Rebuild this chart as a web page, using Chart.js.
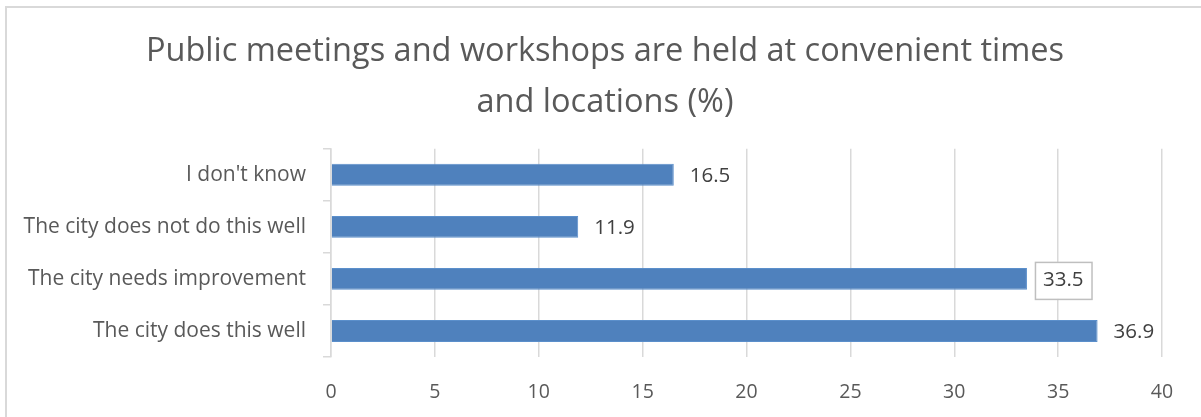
<!DOCTYPE html>
<html>
<head>
<meta charset="utf-8">
<script src="https://cdn.jsdelivr.net/npm/chart.js@4/dist/chart.umd.min.js"></script>
<style>
  html, body { margin: 0; padding: 0; background: #fff; }
  #wrap { position: relative; width: 1201px; height: 417px; overflow: hidden; }
  #frame { position: absolute; left: 5px; top: 6px; width: 1300px; height: 500px;
           border-left: 2px solid #D9D9D9; border-top: 2px solid #D9D9D9; box-sizing: border-box; }
  canvas { position: absolute; left: 0; top: 0; }
</style>
</head>
<body>
<div id="wrap">
  <div id="frame"></div>
  <canvas id="c" width="1201" height="417"></canvas>
</div>
<script>
const titleLines = ["Public meetings and workshops are held at convenient times", "and locations (%)"];
const categories = ["I don't know", "The city does not do this well", "The city needs improvement", "The city does this well"];
const values = [16.5, 11.9, 33.5, 36.9];
const xTicks = [0, 5, 10, 15, 20, 25, 30, 35, 40];
const boxedLabels = ["The city needs improvement"];

const FONT = "'Open Sans', Lato, sans-serif";
const TEXT = '#595959';

const dataLabels = {
  id: 'dataLabels',
  afterDatasetsDraw(chart) {
    const ctx = chart.ctx;
    const meta = chart.getDatasetMeta(0);
    ctx.save();
    ctx.font = '20.5px ' + FONT;
    ctx.textBaseline = 'middle';
    ctx.textAlign = 'left';
    meta.data.forEach((bar, i) => {
      const txt = values[i].toFixed(1);
      const x = bar.x + 16;
      const y = bar.y;
      if (boxedLabels.includes(categories[i])) {
        const w = ctx.measureText(txt).width;
        ctx.fillStyle = '#fff';
        ctx.fillRect(x - 8, y - 17, w + 16, 37);
        ctx.strokeStyle = '#BFBFBF';
        ctx.lineWidth = 1.5;
        ctx.strokeRect(x - 8 + 0.5, y - 17 + 0.5, w + 16, 37);
      }
      ctx.fillStyle = '#404040';
      ctx.fillText(txt, x, y + 1);
    });
    ctx.restore();
  }
};

new Chart(document.getElementById('c'), {
  type: 'bar',
  data: {
    labels: categories,
    datasets: [{
      data: values,
      backgroundColor: '#4F81BD',
      borderColor: '#5B8FCB',
      borderWidth: 1,
      barPercentage: 0.42,
      categoryPercentage: 1.0
    }]
  },
  options: {
    indexAxis: 'y',
    responsive: false,
    animation: false,
    layout: { padding: { left: 9, right: 0, top: 0, bottom: 0 } },
    plugins: {
      legend: { display: false },
      tooltip: { enabled: false },
      title: {
        display: true,
        text: titleLines,
        color: TEXT,
        font: { family: FONT, size: 32.5, weight: 'normal', lineHeight: 1.55 },
        padding: { top: 27, bottom: 21 }
      }
    },
    scales: {
      x: {
        min: 0, max: 40,
        afterBuildTicks(scale) { scale.ticks = xTicks.map(v => ({ value: v })); },
        afterFit(scale) { scale.height = 60; },
        grid: { color: '#D9D9D9', lineWidth: 1.5, drawTicks: false },
        border: { display: false },
        ticks: { color: TEXT, font: { family: FONT, size: 19.5 }, padding: 24 }
      },
      y: {
        afterFit(scale) { scale.width = 322; },
        grid: { color: '#D9D9D9', lineWidth: 1.5, drawOnChartArea: false, tickLength: 8, offset: true },
        border: { display: true, color: '#D9D9D9', width: 1.5 },
        ticks: { color: TEXT, font: { family: FONT, size: 21 }, padding: 17 }
      },
      ySpacer: {
        type: 'category',
        position: 'right',
        afterFit(scale) { scale.width = 39; },
        grid: { display: false },
        border: { display: false },
        ticks: { display: false }
      }
    }
  },
  plugins: [dataLabels]
});
</script>
</body>
</html>
